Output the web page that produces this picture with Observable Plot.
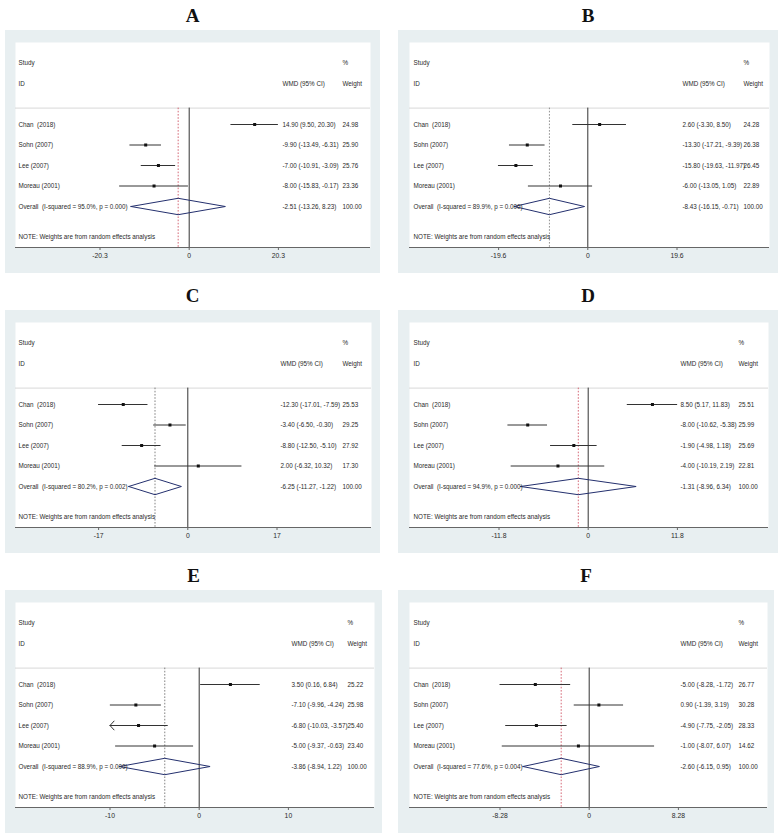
<!DOCTYPE html>
<html>
<head>
<meta charset="utf-8">
<script src="https://cdn.jsdelivr.net/npm/d3@7"></script>
<script src="https://cdn.jsdelivr.net/npm/@observablehq/plot@0.6"></script>
<style>
  html, body { margin: 0; padding: 0; background: #ffffff; }
  #page { position: relative; width: 782px; height: 837px; overflow: hidden; background: #fff; }
  .panel { position: absolute; width: 391px; height: 280px; }
  .title { position: absolute; top: 3px; height: 26px; line-height: 26px; text-align: center;
           font-family: "Liberation Serif", "Times New Roman", serif; font-weight: bold; font-size: 19px; color: #111; }
  .box { position: absolute; top: 30px; height: 243px; background: #e8eff1; }
  .box svg { display: block; }
  .box svg, .box svg text { font-family: "Liberation Sans", Arial, sans-serif !important; white-space: pre; }
</style>
</head>
<body>
<div id="page"></div>
<script>
// ---------- data ----------
const panels = ["A", "B", "C", "D", "E", "F"];
const studies = ["Chan  (2018)", "Sohn (2007)", "Lee (2007)", "Moreau (2001)"];
const estimates = [
  [14.90, -9.90, -7.00, -8.00],
  [2.60, -13.30, -15.80, -6.00],
  [-12.30, -3.40, -8.80, 2.00],
  [8.50, -8.00, -1.90, -4.00],
  [3.50, -7.10, -6.80, -5.00],
  [-5.00, 0.90, -4.90, -1.00]
];
const lowerCI = [
  [9.50, -13.49, -10.91, -15.83],
  [-3.30, -17.21, -19.63, -13.05],
  [-17.01, -6.50, -12.50, -6.32],
  [5.17, -10.62, -4.98, -10.19],
  [0.16, -9.96, -10.03, -9.37],
  [-8.28, -1.39, -7.75, -8.07]
];
const upperCI = [
  [20.30, -6.31, -3.09, -0.17],
  [8.50, -9.39, -11.97, 1.05],
  [-7.59, -0.30, -5.10, 10.32],
  [11.83, -5.38, 1.18, 2.19],
  [6.84, -4.24, -3.57, -0.63],
  [-1.72, 3.19, -2.05, 6.07]
];
const weights = [
  [24.98, 25.90, 25.76, 23.36],
  [24.28, 26.38, 26.45, 22.89],
  [25.53, 29.25, 27.92, 17.30],
  [25.51, 25.99, 25.69, 22.81],
  [25.22, 25.98, 25.40, 23.40],
  [26.77, 30.28, 28.33, 14.62]
];
const overallEst = [-2.51, -8.43, -6.25, -1.31, -3.86, -2.60];
const overallLo  = [-13.26, -16.15, -11.27, -8.96, -8.94, -6.15];
const overallHi  = [8.23, -0.71, -1.22, 6.34, 1.22, 0.95];
const iSquared   = [95.0, 89.9, 80.2, 94.9, 88.9, 77.6];
const pValues    = [0.000, 0.000, 0.002, 0.000, 0.000, 0.004];
const axisTicks  = [20.3, 19.6, 17, 11.8, 10, 8.28];
const axisLimits = [20.3, 19.63, 17.01, 11.83, 10, 8.28];

// ---------- layout & style (page pixels within each 391x280 panel) ----------
const grayLeft   = [5, 7, 5, 7, 5, 7];
const grayRight  = [380, 387, 380, 387, 382, 383];
const whiteLeft  = [15, 18, 15, 18, 15, 18];
const whiteRight = [370, 378, 371, 377, 374, 376];
const zeroPx     = [188.7, 196.3, 187.3, 196.7, 198.7, 197.7];
const ciColX     = [282, 291, 280, 289, 291, 289];
const wtColX     = [342, 352, 342, 347, 347, 347];
const labelX     = [18, 22, 18, 22, 18, 22];
const dashColor  = ["#cc4455", "#777777", "#666666", "#cc4455", "#666666", "#cc4455"];
const tickPx = 89.2;

const fmt2 = v => v.toFixed(2);
const FONT = "Liberation Sans, Arial, sans-serif";
const TXT = "#2a2a2a";
const FS = 6.3;

const page = document.getElementById("page");

panels.forEach((name, i) => {
  const col = i % 2, rowIdx = Math.floor(i / 2);
  const panel = document.createElement("div");
  panel.className = "panel";
  panel.style.left = (col * 391) + "px";
  panel.style.top = (rowIdx * 280) + "px";

  const gl = grayLeft[i], gr = grayRight[i];
  const gw = gr - gl;

  const title = document.createElement("div");
  title.className = "title";
  title.style.left = gl + "px";
  title.style.width = gw + "px";
  title.textContent = name;
  panel.appendChild(title);

  const box = document.createElement("div");
  box.className = "box";
  box.style.left = gl + "px";
  box.style.width = gw + "px";

  const lim = axisLimits[i];
  const ppu = tickPx / axisTicks[i];
  const z = zeroPx[i] - gl;

  const rows = studies.map((s, k) => {
    const lo = lowerCI[i][k], hi = upperCI[i][k];
    return {
      study: s, row: k + 1,
      est: estimates[i][k], lo, hi,
      loC: Math.max(lo, -lim), hiC: Math.min(hi, lim),
      truncL: lo < -lim, truncR: hi > lim,
      ci: `${fmt2(estimates[i][k])} (${fmt2(lo)}, ${fmt2(hi)})`,
      wt: fmt2(weights[i][k])
    };
  });
  const normalRows = rows.filter(d => !d.truncL && !d.truncR);
  const truncRows = rows.filter(d => d.truncL || d.truncR).map(d => ({
    ...d, xa: d.truncL ? d.hiC : d.loC, xb: d.truncL ? -lim : lim
  }));

  const oRow = 5, dh = 0.4;
  const diamond = [
    {x: overallLo[i], y: oRow},
    {x: overallEst[i], y: oRow - dh},
    {x: overallHi[i], y: oRow},
    {x: overallEst[i], y: oRow + dh},
    {x: overallLo[i], y: oRow}
  ];
  const overallLabel = `Overall  (I-squared = ${iSquared[i].toFixed(1)}%, p = ${pValues[i].toFixed(3)})`;
  const overallCI = `${fmt2(overallEst[i])} (${fmt2(overallLo[i])}, ${fmt2(overallHi[i])})`;

  const ml = whiteLeft[i] - gl;
  const dxLabel = labelX[i] - whiteLeft[i];
  const dxCI = ciColX[i] - whiteLeft[i];
  const dxWt = wtColX[i] - whiteLeft[i];
  const ruleTop = 0.2, axisRow = 7;
  const t = axisTicks[i];

  const txt = (data, opts) => Plot.text(data, {frameAnchor: "left", textAnchor: "start", fontSize: FS, fontFamily: FONT, fill: TXT, ...opts});

  const chart = Plot.plot({
    width: gw,
    height: 243,
    marginLeft: ml,
    marginRight: gr - whiteRight[i],
    marginTop: 12,
    marginBottom: 26,
    style: {background: "transparent", fontFamily: FONT, fontSize: FS + "px", color: TXT},
    x: {type: "linear", domain: [-lim, lim], range: [z - lim * ppu, z + lim * ppu]},
    y: {type: "linear", domain: [axisRow, -3], axis: null},
    marks: [
      Plot.frame({fill: "white", stroke: null}),
      Plot.ruleY([ruleTop], {stroke: "#d8d8d8", strokeWidth: 1}),
      Plot.ruleX([0], {y1: ruleTop, y2: axisRow, stroke: "#333", strokeWidth: 1}),
      Plot.ruleX([overallEst[i]], {y1: ruleTop, y2: axisRow, stroke: dashColor[i], strokeWidth: 0.8, strokeDasharray: "1.6,1.6"}),
      Plot.ruleY(normalRows, {y: "row", x1: "loC", x2: "hiC", stroke: "#333", strokeWidth: 1}),
      Plot.arrow(truncRows, {x1: "xa", x2: "xb", y1: "row", y2: "row", stroke: "#333", strokeWidth: 1, headLength: 9, headAngle: 95, bend: 0}),
      Plot.dot(rows, {x: "est", y: "row", symbol: "square", r: 1.7, fill: "#111", stroke: null}),
      Plot.line(diamond, {x: "x", y: "y", stroke: "#24306e", strokeWidth: 1, curve: "linear"}),
      // header
      txt(["Study"], {y: () => -2, text: d => d, dx: dxLabel}),
      txt(["ID"], {y: () => -1, text: d => d, dx: dxLabel}),
      txt(["%"], {y: () => -2, text: d => d, dx: dxWt}),
      txt(["WMD (95% CI)"], {y: () => -1, text: d => d, dx: dxCI}),
      txt(["Weight"], {y: () => -1, text: d => d, dx: dxWt}),
      // rows
      txt(rows, {y: "row", text: "study", dx: dxLabel}),
      txt(rows, {y: "row", text: "ci", dx: dxCI}),
      txt(rows, {y: "row", text: "wt", dx: dxWt}),
      txt([overallLabel], {y: () => oRow, text: d => d, dx: dxLabel}),
      txt([overallCI], {y: () => oRow, text: d => d, dx: dxCI}),
      txt(["100.00"], {y: () => oRow, text: d => d, dx: dxWt}),
      txt(["NOTE: Weights are from random effects analysis"], {y: () => 6.5, text: d => d, dx: dxLabel}),
      // axis
      Plot.ruleY([axisRow], {stroke: "#666", strokeWidth: 1}),
      Plot.axisX([-t, 0, t], {anchor: "bottom", tickSize: 3, tickPadding: 3, fontSize: 6.8, fontFamily: FONT,
        stroke: "#666", fill: TXT, tickFormat: d => String(d), label: null})
    ]
  });
  box.appendChild(chart);
  panel.appendChild(box);
  page.appendChild(panel);
});
</script>
</body>
</html>
